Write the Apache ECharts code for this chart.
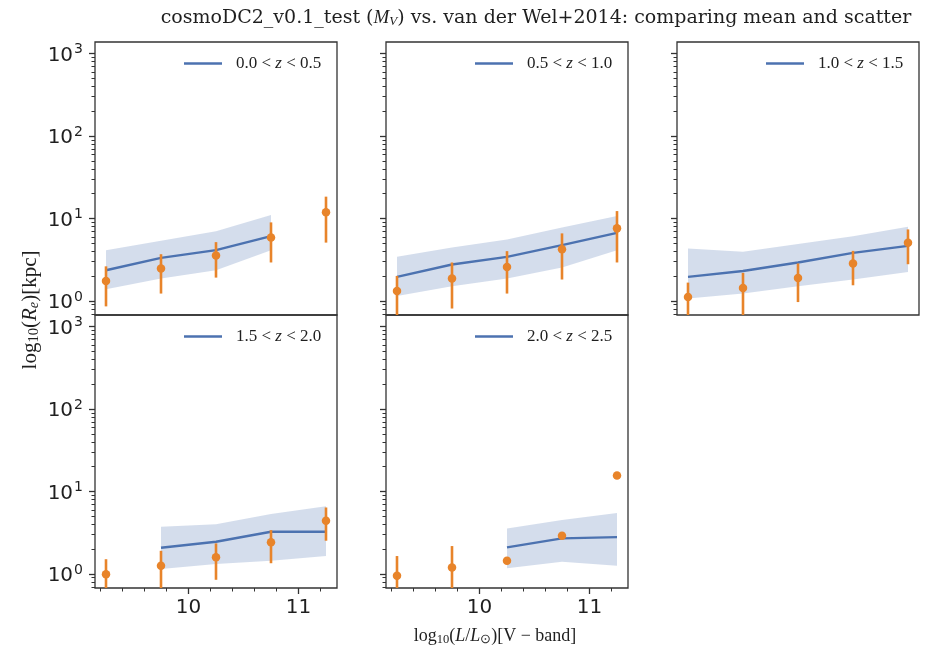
<!DOCTYPE html>
<html>
<head>
<meta charset="utf-8">
<script src="https://cdn.jsdelivr.net/npm/echarts@6/dist/echarts.min.js"></script>
<style>
  html, body { margin: 0; padding: 0; background: #fff; }
  #chart { width: 931px; height: 651px; }
</style>
</head>
<body>
<div id="chart"></div>
<script>
// Luminosity bin centres, log10(L/Lsun)
const lumBins = [9.25, 9.75, 10.25, 10.75, 11.25];

// Redshift bins, one panel each
const zLabels = ['0.0 < z < 0.5', '0.5 < z < 1.0', '1.0 < z < 1.5', '1.5 < z < 2.0', '2.0 < z < 2.5'];

// cosmoDC2 mean size per bin (kpc), null where the bin is empty
const modelMean = [
  [2.36, 3.33, 4.13, 6.10, null],
  [1.96, 2.77, 3.43, 4.75, 6.70],
  [1.96, 2.31, 2.93, 3.83, 4.66],
  [null, 2.08, 2.46, 3.25, 3.25],
  [null, null, 2.10, 2.70, 2.80]
];
// cosmoDC2 scatter band, lower edge
const modelLow = [
  [1.39, 1.87, 2.36, 4.13, null],
  [1.15, 1.51, 1.87, 2.55, 4.13],
  [1.07, 1.23, 1.51, 1.82, 2.25],
  [null, 1.15, 1.32, 1.45, 1.65],
  [null, null, 1.17, 1.41, 1.26]
];
// cosmoDC2 scatter band, upper edge
const modelHigh = [
  [4.13, 5.36, 7.00, 11.0, null],
  [3.43, 4.46, 5.57, 7.80, 10.7],
  [4.33, 3.94, 4.89, 6.10, 7.93],
  [null, 3.73, 4.02, 5.32, 6.64],
  [null, null, 3.57, 4.50, 5.50]
];

// van der Wel+2014 mean sizes (kpc)
const obsMean = [
  [1.75, 2.48, 3.56, 5.90, 11.9],
  [1.32, 1.87, 2.59, 4.25, 7.59],
  [1.12, 1.44, 1.90, 2.85, 5.07],
  [0.99, 1.26, 1.59, 2.42, 4.41],
  [0.95, 1.20, 1.45, 2.90, 15.6]
];
// van der Wel+2014 error bar ends
const obsLow = [
  [0.86, 1.23, 1.92, 2.93, 5.10],
  [0.63, 0.81, 1.23, 1.82, 2.93],
  [0.57, 0.66, 0.97, 1.55, 2.79],
  [0.47, 0.61, 0.85, 1.35, 2.53],
  [0.25, 0.22, null, null, null]
];
const obsHigh = [
  [2.63, 3.69, 5.17, 8.97, 18.4],
  [2.01, 2.93, 4.02, 6.60, 12.3],
  [1.67, 2.19, 2.85, 4.05, 7.37],
  [1.51, 1.91, 2.35, 3.40, 6.40],
  [1.65, 2.18, null, null, null]
];

// Axis ticks
const xMajorTicks = [10, 11];
const xMinorTicks = [9.2, 9.4, 9.6, 9.8, 10.2, 10.4, 10.6, 10.8, 11.2];
const yMajorTicks = [1, 10, 100, 1000];
const yMinorTicks = [0.7, 0.8, 0.9, 2, 3, 4, 5, 6, 7, 8, 9, 20, 30, 40, 50, 60, 70, 80, 90,
                     200, 300, 400, 500, 600, 700, 800, 900];

const BLUE = '#4c72b0';
const BAND = 'rgba(76,114,176,0.24)';
const ORANGE = '#e8842a';
const INK = '#1f1f1f';
const FRAME = '#333333';

const X_MIN = 9.15, X_MAX = 11.35;
const Y_MIN = 0.676, Y_MAX = 1380;

// panel boxes and their row/column in the 2x3 layout
const panels = [
  { left: 95,  top: 42,  col: 0, row: 0 },
  { left: 386, top: 42,  col: 1, row: 0 },
  { left: 677, top: 42,  col: 2, row: 0 },
  { left: 95,  top: 315, col: 0, row: 1 },
  { left: 386, top: 315, col: 1, row: 1 }
];
const PW = 242, PH = 273;

const chart = echarts.init(document.getElementById('chart'), null, { renderer: 'canvas' });

const grid = [], xAxis = [], yAxis = [], series = [], legend = [];

panels.forEach((p, i) => {
  grid.push({
    left: p.left, top: p.top, width: PW, height: PH,
    show: true, borderColor: FRAME, borderWidth: 1.3, backgroundColor: 'transparent'
  });
  const bottomRow = p.row === 1;
  const firstCol = p.col === 0;

  // major x axis
  xAxis.push({
    type: 'value', gridIndex: i, min: X_MIN, max: X_MAX, position: 'bottom',
    axisLine: { show: false },
    splitLine: { show: false },
    axisTick: { show: bottomRow, customValues: xMajorTicks, length: 6,
                lineStyle: { color: FRAME, width: 1.3 } },
    axisLabel: { show: bottomRow, customValues: xMajorTicks, margin: 10,
                 fontFamily: 'DejaVu Sans', fontSize: 20, color: INK }
  });
  // minor x ticks
  xAxis.push({
    type: 'value', gridIndex: i, min: X_MIN, max: X_MAX, position: 'bottom',
    axisLine: { show: false },
    splitLine: { show: false },
    axisTick: { show: bottomRow, customValues: xMinorTicks, length: 3.5,
                lineStyle: { color: FRAME, width: 1 } },
    axisLabel: { show: false }
  });
  // major y axis (log)
  yAxis.push({
    type: 'log', logBase: 10, gridIndex: i, min: Y_MIN, max: Y_MAX, position: 'left',
    axisLine: { show: false },
    splitLine: { show: false },
    axisTick: { show: true, customValues: yMajorTicks, length: 6,
                lineStyle: { color: FRAME, width: 1.3 } },
    axisLabel: {
      show: firstCol, customValues: yMajorTicks, margin: 12,
      formatter: v => '{b|10}{s|' + Math.round(Math.log10(v)) + '}',
      rich: {
        b: { fontFamily: 'DejaVu Sans', fontSize: 20, color: INK, verticalAlign: 'bottom', lineHeight: 24 },
        s: { fontFamily: 'DejaVu Sans', fontSize: 14, color: INK, verticalAlign: 'bottom',
             lineHeight: 24, padding: [0, 0, 9, 1] }
      }
    }
  });
  // minor y ticks
  yAxis.push({
    type: 'log', logBase: 10, gridIndex: i, min: Y_MIN, max: Y_MAX, position: 'left',
    axisLine: { show: false },
    splitLine: { show: false },
    axisTick: { show: true, customValues: yMinorTicks, length: 3.5,
                lineStyle: { color: FRAME, width: 1 } },
    axisLabel: { show: false }
  });

  const xi = i * 2, yi = i * 2;

  // scatter band of the model
  const band = [];
  lumBins.forEach((x, k) => {
    if (modelMean[i][k] != null) band.push([x, modelLow[i][k], modelHigh[i][k]]);
  });
  series.push({
    type: 'custom', xAxisIndex: xi, yAxisIndex: yi, clip: true, z: 1, silent: true,
    data: band,
    renderItem: (params, api) => {
      if (params.dataIndex !== 0) return null;
      const up = band.map(d => api.coord([d[0], d[2]]));
      const lo = band.map(d => api.coord([d[0], d[1]])).reverse();
      return { type: 'polygon', shape: { points: up.concat(lo) }, style: { fill: BAND } };
    }
  });

  // model mean line
  const line = [];
  lumBins.forEach((x, k) => { if (modelMean[i][k] != null) line.push([x, modelMean[i][k]]); });
  series.push({
    name: zLabels[i], type: 'line', xAxisIndex: xi, yAxisIndex: yi, z: 3,
    data: line, showSymbol: false, symbol: 'none', clip: true,
    color: BLUE, lineStyle: { color: BLUE, width: 2.4 }
  });

  // observational error bars
  const bars = [];
  lumBins.forEach((x, k) => {
    if (obsLow[i][k] != null && obsHigh[i][k] != null) bars.push([x, obsLow[i][k], obsHigh[i][k]]);
  });
  series.push({
    type: 'custom', xAxisIndex: xi, yAxisIndex: yi, clip: true, z: 4, silent: true,
    data: bars,
    renderItem: (params, api) => {
      const a = api.coord([api.value(0), api.value(1)]);
      const b = api.coord([api.value(0), api.value(2)]);
      return { type: 'line', shape: { x1: a[0], y1: a[1], x2: b[0], y2: b[1] },
               style: { stroke: ORANGE, lineWidth: 2.6 } };
    }
  });

  // observational means
  series.push({
    type: 'scatter', xAxisIndex: xi, yAxisIndex: yi, z: 5, clip: true,
    data: lumBins.map((x, k) => [x, obsMean[i][k]]),
    symbol: 'circle', symbolSize: 8.5, itemStyle: { color: ORANGE, opacity: 1 }
  });

  legend.push({
    data: [{ name: zLabels[i], icon: 'rect' }],
    left: p.left + 89, top: p.top + 13, padding: 0,
    itemWidth: 38, itemHeight: 2.4, selectedMode: false,
    formatter: name => '{g|}' + name.replace('z', '{i|z}'),
    textStyle: {
      fontFamily: 'Liberation Serif', fontSize: 17, color: INK,
      rich: {
        g: { width: 9 },
        i: { fontFamily: 'Liberation Serif', fontStyle: 'italic', fontSize: 17, color: INK }
      }
    }
  });
});

const serif = 'Liberation Serif';
const graphic = [
  {
    type: 'text', x: 536, y: 18,
    style: {
      text: 'cosmoDC2_v0.1_test ({mi|M}{sub|V}) vs. van der Wel+2014: comparing mean and scatter',
      fontFamily: 'DejaVu Serif', fontSize: 19, fill: INK,
      align: 'center', verticalAlign: 'middle',
      rich: {
        mi: { fontFamily: serif, fontStyle: 'italic', fontSize: 19, fill: INK },
        sub: { fontFamily: serif, fontStyle: 'italic', fontSize: 13, fill: INK, padding: [7, 0, 0, 0] }
      }
    }
  },
  {
    type: 'text', x: 495, y: 636,
    style: {
      text: 'log{sub|10}({it|L}/{it|L}{sub|⊙})[V − band]',
      fontFamily: serif, fontSize: 18, fill: INK,
      align: 'center', verticalAlign: 'middle',
      rich: {
        it: { fontFamily: serif, fontStyle: 'italic', fontSize: 18, fill: INK },
        sub: { fontFamily: serif, fontSize: 12.5, fill: INK, padding: [7, 0, 0, 0] }
      }
    }
  },
  {
    type: 'text', x: 30, y: 310, rotation: Math.PI / 2,
    style: {
      text: 'log{sub|10}({it|R}{isub|e})[kpc]',
      fontFamily: serif, fontSize: 21, fill: INK,
      align: 'center', verticalAlign: 'middle',
      rich: {
        it: { fontFamily: serif, fontStyle: 'italic', fontSize: 21, fill: INK },
        sub: { fontFamily: serif, fontSize: 14.5, fill: INK, padding: [8, 0, 0, 0] },
        isub: { fontFamily: serif, fontStyle: 'italic', fontSize: 14.5, fill: INK, padding: [8, 0, 0, 0] }
      }
    }
  }
];

chart.setOption({
  animation: false,
  backgroundColor: '#fff',
  grid, xAxis, yAxis, series, legend, graphic
});
</script>
</body>
</html>
